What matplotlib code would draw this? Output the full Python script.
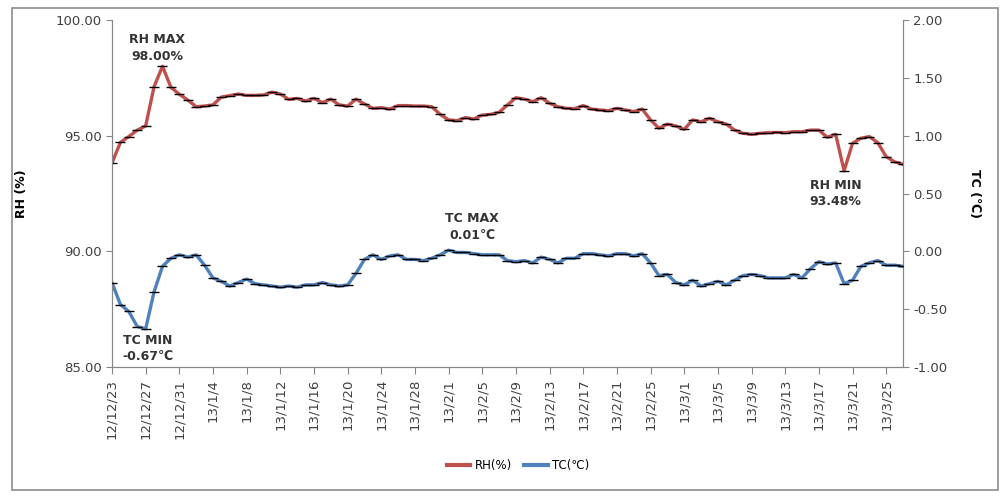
import matplotlib
matplotlib.use("Agg")
import matplotlib.pyplot as plt
from matplotlib.patches import Rectangle

plt.rcParams['font.family'] = ['DejaVu Sans', 'Noto Sans CJK KR']

# daily values 12/12/23 .. 13/3/27
rh = [93.82, 94.71, 94.96, 95.24, 95.42, 97.12, 98.00, 97.09, 96.79, 96.54,
      96.25, 96.28, 96.33, 96.67, 96.73, 96.80, 96.74, 96.74, 96.76, 96.88,
      96.80, 96.57, 96.61, 96.50, 96.61, 96.43, 96.58, 96.33, 96.28, 96.58,
      96.37, 96.18, 96.21, 96.15, 96.30, 96.30, 96.28, 96.28, 96.25, 95.92,
      95.68, 95.65, 95.78, 95.72, 95.89, 95.92, 96.01, 96.33, 96.64, 96.58,
      96.47, 96.64, 96.40, 96.25, 96.18, 96.17, 96.30, 96.15, 96.11, 96.08,
      96.18, 96.11, 96.04, 96.15, 95.68, 95.32, 95.50, 95.42, 95.27, 95.68,
      95.60, 95.75, 95.60, 95.50, 95.24, 95.10, 95.06, 95.10, 95.13, 95.14,
      95.13, 95.17, 95.17, 95.24, 95.24, 94.93, 95.06, 93.48, 94.67, 94.89,
      94.96, 94.70, 94.09, 93.87, 93.76]
tc = [-0.27, -0.46, -0.52, -0.65, -0.67, -0.35, -0.13, -0.06, -0.03, -0.05,
      -0.03, -0.12, -0.23, -0.26, -0.30, -0.27, -0.24, -0.28, -0.29, -0.30,
      -0.31, -0.30, -0.31, -0.29, -0.29, -0.27, -0.29, -0.30, -0.29, -0.19,
      -0.07, -0.03, -0.07, -0.04, -0.03, -0.07, -0.07, -0.08, -0.06, -0.03,
      0.01, -0.01, -0.01, -0.02, -0.03, -0.03, -0.03, -0.08, -0.09, -0.08,
      -0.10, -0.05, -0.07, -0.10, -0.06, -0.06, -0.02, -0.02, -0.03, -0.04,
      -0.02, -0.02, -0.04, -0.02, -0.10, -0.21, -0.20, -0.27, -0.29, -0.25,
      -0.30, -0.28, -0.26, -0.29, -0.25, -0.21, -0.20, -0.21, -0.23, -0.23,
      -0.23, -0.20, -0.23, -0.15, -0.09, -0.11, -0.10, -0.28, -0.25, -0.13,
      -0.10, -0.08, -0.12, -0.12, -0.13]
date_labels = ['12/12/23', '12/12/27', '12/12/31', '13/1/4', '13/1/8', '13/1/12',
               '13/1/16', '13/1/20', '13/1/24', '13/1/28', '13/2/1', '13/2/5',
               '13/2/9', '13/2/13', '13/2/17', '13/2/21', '13/2/25', '13/3/1',
               '13/3/5', '13/3/9', '13/3/13', '13/3/17', '13/3/21', '13/3/25']

red = '#C0504D'
blue = '#4F81BD'
gray = '#868686'

fig = plt.figure(figsize=(10.06, 4.98), dpi=100)
ax = fig.add_axes([112 / 1006, 1 - 367 / 498, (903 - 112) / 1006, 347 / 498])
ax2 = ax.twinx()

x = list(range(len(rh)))
ax.plot(x, rh, color=red, lw=2.4, zorder=2)
ax.plot(x, rh, ls='none', marker='_', ms=6.5, mew=1.0, color='black', zorder=3)
ax2.plot(x, tc, color=blue, lw=2.4, zorder=2)
ax2.plot(x, tc, ls='none', marker='_', ms=6.5, mew=1.0, color='black', zorder=3)

ax.set_xlim(0, len(rh) - 1)
ax.set_ylim(85, 100)
ax2.set_ylim(-1, 2)
ax.set_yticks([85, 90, 95, 100])
ax.set_yticklabels([f'{v:.2f}' for v in [85, 90, 95, 100]])
ax2.set_yticks([-1, -0.5, 0, 0.5, 1, 1.5, 2])
ax2.set_yticklabels([f'{v:.2f}' for v in [-1, -0.5, 0, 0.5, 1, 1.5, 2]])
ax.set_xticks(range(0, len(rh), 4))
ax.set_xticklabels(date_labels, rotation=90, fontsize=9, color='#404040')

for a in (ax, ax2):
    a.spines['top'].set_visible(False)
    for s in ('left', 'right', 'bottom'):
        a.spines[s].set_color(gray)
    a.tick_params(colors=gray, labelcolor='#404040', labelsize=9.5, length=4)
ax.tick_params(axis='x', length=5)

ax.set_ylabel('RH (%)', fontsize=9, fontweight='bold', labelpad=20)
ax2.set_ylabel('TC (℃)', fontsize=9, fontweight='bold', rotation=-90, labelpad=24)

ann = dict(ha='center', va='center', fontsize=9, fontweight='bold',
           color='#333333', linespacing=1.35)
ax.text(5.4, 98.8, 'RH MAX\n98.00%', **ann)
ax.text(86, 92.5, 'RH MIN\n93.48%', **ann)
ax2.text(42.8, 0.21, 'TC MAX\n0.01℃', **ann)
ax2.text(4.3, -0.84, 'TC MIN\n-0.67℃', **ann)

h1, = ax.plot([], [], color=red, lw=3)
h2, = ax.plot([], [], color=blue, lw=3)
fig.legend([h1, h2], ['RH(%)', 'TC(℃)'], loc='center', bbox_to_anchor=(0.515, 0.066),
           ncol=2, frameon=False, fontsize=8.5, handlelength=2, columnspacing=1.0,
           handletextpad=0.4)

fig.patches.append(Rectangle((12 / 1006, 8 / 498), 986 / 1006, 482 / 498,
                             transform=fig.transFigure, fill=False,
                             edgecolor='#8c8c8c', lw=1.2))

fig.savefig('out.png', dpi=100)
